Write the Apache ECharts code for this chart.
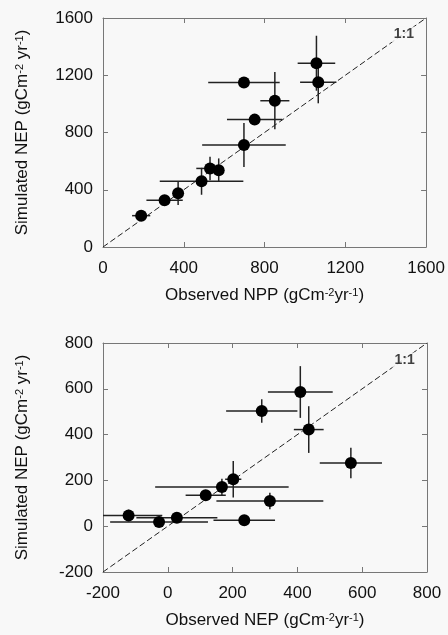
<!DOCTYPE html>
<html>
<head>
<meta charset="utf-8">
<script src="https://cdn.jsdelivr.net/npm/echarts@6/dist/echarts.min.js"></script>
<style>
  html, body { margin: 0; padding: 0; background: #f8f8f8; }
  #chart { width: 448px; height: 635px; }
</style>
</head>
<body>
<div id="chart"></div>
<script>
// top panel: NPP
const nppObs = [189, 305, 372, 488, 530, 573, 698, 751, 698, 851, 1057, 1066]
const nppSim = [219, 326, 375, 459, 549, 537, 713, 890, 1150, 1022, 1284, 1151]
const nppObsErr = [45, 90, 0, 207, 68, 0, 207, 137, 177, 72, 93, 90]
const nppSimErr = [31, 0, 82, 94, 82, 82, 154, 0, 0, 200, 192, 147]
const nppTicks = [0, 400, 800, 1200, 1600]

// bottom panel: NEP
const nepObs = [-121, -27, 28, 117, 167, 202, 315, 236, 290, 409, 435, 565]
const nepSim = [47, 18, 37, 135, 171, 205, 110, 26, 503, 586, 422, 276]
const nepObsErr = [104, 151, 125, 62, 206, 25, 165, 95, 110, 100, 46, 96]
const nepSimErr = [25, 0, 0, 22, 36, 80, 36, 0, 51, 113, 102, 67]
const nepTicks = [-200, 0, 200, 400, 600, 800]

const font = 'Liberation Sans, Arial, Helvetica, sans-serif'
const ink = '#111'
const frame = '#777'
const rich = { sup: { fontSize: 11, verticalAlign: 'top', fontFamily: font, color: ink } }

const chart = echarts.init(document.getElementById('chart'))

const makeAxes = (ticks, gridIndex, dim, name) => {
  const min = ticks[0], max = ticks[ticks.length - 1]
  const interval = ticks[1] - ticks[0]
  const base = {
    type: 'value', gridIndex, min, max, interval,
    splitLine: { show: false },
    axisLine: { show: true, onZero: false, lineStyle: { color: frame, width: 1 } },
    axisTick: { show: true, inside: true, length: 5, lineStyle: { color: frame } }
  }
  const main = Object.assign({}, base, {
    position: dim === 'x' ? 'bottom' : 'left',
    name,
    nameLocation: 'middle',
    nameGap: dim === 'x' ? 40 : 72,
    nameTextStyle: { fontSize: 17, color: ink, fontFamily: font, rich },
    axisLabel: {
      fontSize: 17, color: ink, fontFamily: font,
      margin: dim === 'x' ? 13 : 10,
      formatter: v => String(v)
    }
  })
  const mirror = Object.assign({}, base, {
    position: dim === 'x' ? 'top' : 'right',
    axisLabel: { show: false }
  })
  return [main, mirror]
}

const errorSeries = (xs, ys, xe, ye, xAxisIndex, yAxisIndex, xr, yr) => ({
  type: 'custom',
  xAxisIndex, yAxisIndex,
  z: 2,
  data: xs.map((x, i) => [x, ys[i], xe[i], ye[i]]),
  renderItem: (params, api) => {
    const x = api.value(0), y = api.value(1), dx = api.value(2), dy = api.value(3)
    const style = { stroke: '#222', lineWidth: 1.5 }
    const children = []
    if (dx) {
      const a = api.coord([Math.max(x - dx, xr[0]), y])
      const b = api.coord([Math.min(x + dx, xr[1]), y])
      children.push({ type: 'line', shape: { x1: a[0], y1: a[1], x2: b[0], y2: b[1] }, style })
    }
    if (dy) {
      const a = api.coord([x, Math.max(y - dy, yr[0])])
      const b = api.coord([x, Math.min(y + dy, yr[1])])
      children.push({ type: 'line', shape: { x1: a[0], y1: a[1], x2: b[0], y2: b[1] }, style })
    }
    return { type: 'group', children }
  }
})

const dots = (xs, ys, xAxisIndex, yAxisIndex) => ({
  type: 'scatter', xAxisIndex, yAxisIndex, z: 3,
  symbolSize: 12,
  itemStyle: { color: '#000', opacity: 1 },
  data: xs.map((x, i) => [x, ys[i]])
})

const oneToOne = (ticks, xAxisIndex, yAxisIndex) => {
  const min = ticks[0], max = ticks[ticks.length - 1]
  return {
    type: 'line', xAxisIndex, yAxisIndex, z: 1,
    symbol: 'none',
    lineStyle: { color: '#222', width: 1, type: [6, 3] },
    data: [[min, min], [max, max]]
  }
}

const oneLabel = (pos, xAxisIndex, yAxisIndex) => ({
  type: 'scatter', xAxisIndex, yAxisIndex, z: 4,
  symbolSize: 1,
  itemStyle: { color: 'rgba(0,0,0,0)' },
  label: {
    show: true, position: 'inside', formatter: '1:1',
    fontSize: 14, fontWeight: 'bold', color: ink, fontFamily: font,
    backgroundColor: '#f8f8f8', padding: [1, 2]
  },
  data: [pos]
})

const nppRange = [nppTicks[0], nppTicks[nppTicks.length - 1]]
const nepRange = [nepTicks[0], nepTicks[nepTicks.length - 1]]

const option = {
  backgroundColor: '#f8f8f8',
  animation: false,
  grid: [
    { left: 103, top: 18, width: 324, height: 229 },
    { left: 103, top: 343, width: 324, height: 229 }
  ],
  xAxis: [
    ...makeAxes(nppTicks, 0, 'x', 'Observed NPP (gCm{sup|-2}yr{sup|-1})'),
    ...makeAxes(nepTicks, 1, 'x', 'Observed NEP (gCm{sup|-2}yr{sup|-1})')
  ],
  yAxis: [
    ...makeAxes(nppTicks, 0, 'y', 'Simulated NEP (gCm{sup|-2} yr{sup|-1})'),
    ...makeAxes(nepTicks, 1, 'y', 'Simulated NEP (gCm{sup|-2} yr{sup|-1})')
  ],
  series: [
    oneToOne(nppTicks, 0, 0),
    oneLabel([1490, 1484], 0, 0),
    errorSeries(nppObs, nppSim, nppObsErr, nppSimErr, 0, 0, nppRange, nppRange),
    dots(nppObs, nppSim, 0, 0),
    oneToOne(nepTicks, 2, 2),
    oneLabel([731, 724], 2, 2),
    errorSeries(nepObs, nepSim, nepObsErr, nepSimErr, 2, 2, nepRange, nepRange),
    dots(nepObs, nepSim, 2, 2)
  ]
}

chart.setOption(option)
</script>
</body>
</html>
